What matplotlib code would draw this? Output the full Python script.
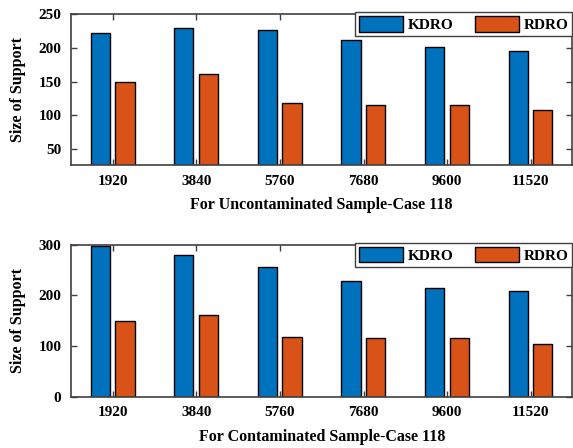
import numpy as np
from matplotlib import pyplot as plt

# Support size for KDRO vs RDRO, case 118
samples = ['1920', '3840', '5760', '7680', '9600', '11520']
kdro_clean = [222, 229, 226, 212, 201, 195]
rdro_clean = [150, 161, 118, 116, 115, 108]
kdro_cont = [297, 280, 256, 228, 214, 208]
rdro_cont = [150, 162, 118, 116, 115, 105]

plt.rcParams['font.family'] = 'Liberation Serif'
plt.rcParams['font.weight'] = 'bold'
plt.rcParams['font.size'] = 11

blue = '#0072BD'
orange = '#D95319'
spine_col = '#404040'

fig = plt.figure(figsize=(5.73, 4.48), dpi=100)
ax1 = fig.add_axes([0.124, 0.632, 0.875, 0.337])
ax2 = fig.add_axes([0.124, 0.1145, 0.875, 0.339])

x = np.arange(1, len(samples) + 1)
w = 0.23


def draw(ax, kdro, rdro, ylim, yticks, xlabel):
    ax.bar(x - 0.15, kdro, w, color=blue, edgecolor='black', linewidth=1, label='KDRO')
    ax.bar(x + 0.145, rdro, w, color=orange, edgecolor='black', linewidth=1, label='RDRO')
    ax.set_xlim(0.5, 6.5)
    ax.set_ylim(*ylim)
    ax.set_xticks(x)
    ax.set_xticklabels(samples)
    ax.set_yticks(yticks)
    ax.tick_params(direction='in', top=True, right=True, length=4, width=1,
                   color=spine_col, labelsize=11, pad=7)
    for s in ax.spines.values():
        s.set_color(spine_col)
        s.set_linewidth(1.2)
    ax.set_ylabel('Size of Support', fontweight='bold', fontsize=11.5, labelpad=9)
    ax.set_xlabel(xlabel, fontweight='bold', fontsize=11.5, labelpad=7)
    leg = ax.legend(loc='upper right', bbox_to_anchor=(1.0, 1.012), ncol=2,
                    fancybox=False, edgecolor=spine_col, framealpha=1,
                    handlelength=2.9, handleheight=1.2, columnspacing=1.4,
                    handletextpad=0.3, borderaxespad=0, borderpad=0.25,
                    prop={'weight': 'bold', 'size': 11})
    leg.get_frame().set_linewidth(1)


draw(ax1, kdro_clean, rdro_clean, (27, 250), [50, 100, 150, 200, 250],
     'For Uncontaminated Sample-Case 118')
draw(ax2, kdro_cont, rdro_cont, (0, 300), [0, 100, 200, 300],
     'For Contaminated Sample-Case 118')

fig.savefig('out.png', dpi=100)
